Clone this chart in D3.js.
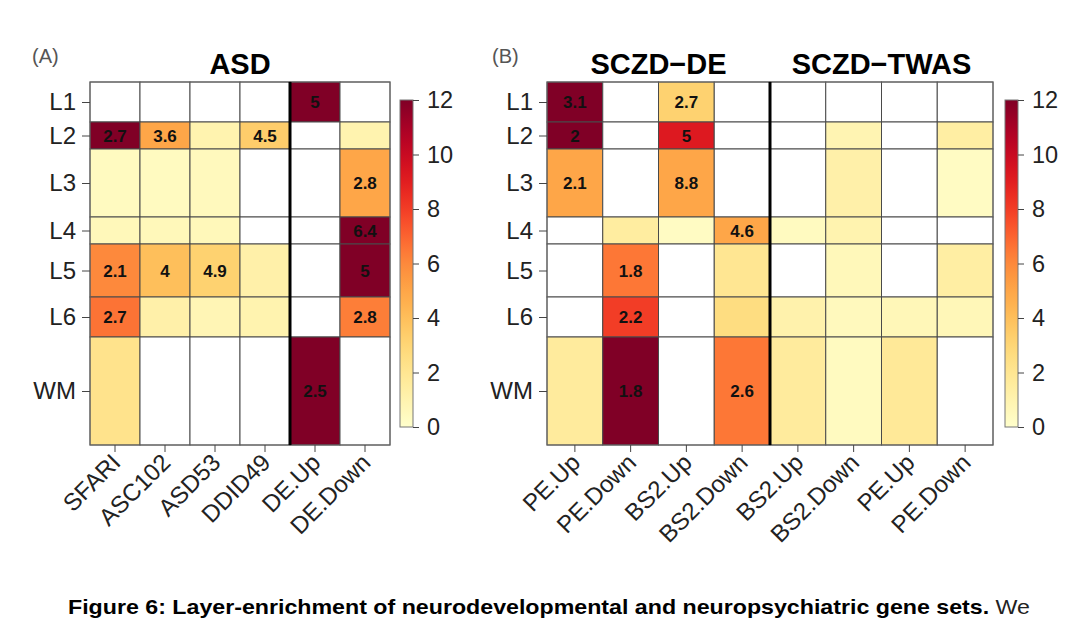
<!DOCTYPE html>
<html><head><meta charset="utf-8">
<script src="https://cdn.jsdelivr.net/npm/d3@7"></script>
<style>
html,body{margin:0;padding:0;background:#fff;}
text{font-family:"Liberation Sans",Arial,sans-serif;}
</style></head>
<body><svg id="c" width="1080" height="635"></svg>
<script>
// ---------- data ----------
const layers = ["L1","L2","L3","L4","L5","L6","WM"];
const layerSpan = [40,27,68,27,53,40,108];           // relative band heights of the layers
const colsA = ["SFARI","ASC102","ASD53","DDID49","DE.Up","DE.Down"];
const colsB = ["PE.Up","PE.Down","BS2.Up","BS2.Down","BS2.Up ","BS2.Down ","PE.Up ","PE.Down "];
const groupA = ["ASD"];
const groupB = ["SCZD\u2212DE","SCZD\u2212TWAS"];
// colour values (enrichment score, capped at 12), null = not significant (white)
const valuesA = [
  [null,null,null,null,12,null],
  [12,5,1,3.4,null,1],
  [0.4,0.4,0.5,null,null,5],
  [0.6,0.6,0.6,null,null,12],
  [6,4,3.2,1.2,null,12],
  [6.6,1.2,0.8,1.0,null,6.3],
  [2.2,null,null,null,12,null]
];
const textA = [
  ["","","","","5",""],
  ["2.7","3.6","","4.5","",""],
  ["","","","","","2.8"],
  ["","","","","","6.4"],
  ["2.1","4","4.9","","","5"],
  ["2.7","","","","","2.8"],
  ["","","","","2.5",""]
];
const valuesB = [
  [12,null,3.2,null, null,null,null,null],
  [12,null,9.2,null, null,0.9,null,1.4],
  [5,null,5,null, null,1.2,null,0.3],
  [null,1.5,0.3,5, 0.4,1.0,null,null],
  [null,6.5,null,2, null,0.6,null,1.4],
  [null,8,null,2.6, 1.1,0.5,0.7,0.7],
  [1.6,12,null,6.5, 1.6,0.4,1.8,null]
];
const textB = [
  ["3.1","","2.7","", "","","",""],
  ["2","","5","", "","","",""],
  ["2.1","","8.8","", "","","",""],
  ["","","","4.6", "","","",""],
  ["","1.8","","", "","","",""],
  ["","2.2","","", "","","",""],
  ["","1.8","","2.6", "","","",""]
];
const legendTicks = [0,2,4,6,8,10,12];
const panelLetters = ["(A)","(B)"];
const captionBold = "Figure 6: Layer-enrichment of neurodevelopmental and neuropsychiatric gene sets.";
const captionRest = " We";

// ---------- drawing ----------
const svg = d3.select("#c");
const color = d3.scaleSequential(d3.interpolateYlOrRd).domain([0,12]);
const topY = 82, bottomY = 445;
const cum = [0]; layerSpan.forEach(v => cum.push(cum[cum.length-1]+v));
const y = d3.scaleLinear().domain([0, cum[cum.length-1]]).range([topY, bottomY]);
const mids = layers.map((l,i)=>(cum[i]+cum[i+1])/2);

function panel(cols, values, texts, x0, x1, sepIdx, titles, letter, letterX, cbX){
  const x = d3.scaleBand().domain(cols).range([x0,x1]);
  const g = svg.append("g");
  values.forEach((row,i)=>{
    row.forEach((v,j)=>{
      g.append("rect")
        .attr("x", x(cols[j])).attr("y", y(cum[i]))
        .attr("width", x.bandwidth()).attr("height", y(cum[i+1])-y(cum[i]))
        .attr("fill", v==null ? "#ffffff" : color(v))
        .attr("stroke","#4a4a4a").attr("stroke-width",1);
      const t = texts[i][j];
      if(t){
        g.append("text").attr("x", x(cols[j])+x.bandwidth()/2).attr("y", y(mids[i]))
          .attr("dy","0.36em").attr("text-anchor","middle")
          .attr("font-weight","bold").attr("font-size",17).attr("fill","#111").text(t);
      }
    });
  });
  g.append("rect").attr("x",x0).attr("y",topY).attr("width",x1-x0).attr("height",bottomY-topY)
    .attr("fill","none").attr("stroke","#666").attr("stroke-width",1);
  const sx = x(cols[sepIdx]);
  g.append("line").attr("x1",sx).attr("x2",sx).attr("y1",topY).attr("y2",bottomY)
    .attr("stroke","#000").attr("stroke-width",3);
  const ya = svg.append("g").attr("transform",`translate(${x0},0)`)
    .call(d3.axisLeft(y).tickValues(mids).tickFormat((d,i)=>layers[i]).tickSize(8).tickPadding(6));
  ya.select(".domain").remove();
  ya.selectAll(".tick line").attr("stroke","#444");
  ya.selectAll("text").attr("font-size",24).attr("fill","#222").style("font-family","Liberation Sans");
  const xa = svg.append("g").attr("transform",`translate(0,${bottomY})`)
    .call(d3.axisBottom(x).tickSize(7).tickFormat(d=>d.trim()));
  xa.select(".domain").remove();
  xa.selectAll(".tick line").attr("stroke","#444");
  xa.selectAll(".tick text")
    .attr("font-size",24).attr("fill","#222").style("font-family","Liberation Sans")
    .attr("text-anchor","end").attr("y",0).attr("dy","0.35em")
    .attr("transform","translate(1,13) rotate(-45)");
  if(titles.length===1){
    svg.append("text").attr("x",(x0+x1)/2).attr("y",74).attr("text-anchor","middle")
      .attr("font-weight","bold").attr("font-size",29).attr("fill","#000").text(titles[0]);
  } else {
    const bounds = [[cols[0], cols[sepIdx-1]],[cols[sepIdx], cols[cols.length-1]]];
    titles.forEach((tt,k)=>{
      const a = x(bounds[k][0]), b = x(bounds[k][1])+x.bandwidth();
      svg.append("text").attr("x",(a+b)/2).attr("y",74).attr("text-anchor","middle")
        .attr("font-weight","bold").attr("font-size",29).attr("fill","#000").text(tt);
    });
  }
  svg.append("text").attr("x",letterX).attr("y",63).attr("font-size",20).attr("fill","#555").text(letter);
  const cb = d3.scaleLinear().domain([0,12]).range([427,100]);
  const gid = "grad"+cbX;
  const grad = svg.append("defs").append("linearGradient").attr("id",gid)
    .attr("x1",0).attr("x2",0).attr("y1",1).attr("y2",0);
  d3.range(0,12.01,0.5).forEach(v=>grad.append("stop").attr("offset",v/12).attr("stop-color",color(v)));
  svg.append("rect").attr("x",cbX).attr("y",100).attr("width",13).attr("height",327)
    .attr("fill",`url(#${gid})`).attr("stroke","#777").attr("stroke-width",1);
  const ca = svg.append("g").attr("transform",`translate(${cbX+13},0)`)
    .call(d3.axisRight(cb).tickValues(legendTicks).tickSize(6).tickPadding(8));
  ca.select(".domain").remove();
  ca.selectAll(".tick line").attr("stroke","#444");
  ca.selectAll("text").attr("font-size",23.5).attr("fill","#222").style("font-family","Liberation Sans");
}

panel(colsA, valuesA, textA, 90, 390, 4, groupA, panelLetters[0], 32, 400);
panel(colsB, valuesB, textB, 547, 993, 4, groupB, panelLetters[1], 492, 1005);

const cap = svg.append("text").attr("x",68).attr("y",614).attr("font-size",21).attr("fill","#000");
cap.append("tspan").attr("font-weight","bold").text(captionBold);
cap.append("tspan").attr("fill","#222").text(captionRest);
cap.attr("textLength",962).attr("lengthAdjust","spacingAndGlyphs");
</script></body></html>
